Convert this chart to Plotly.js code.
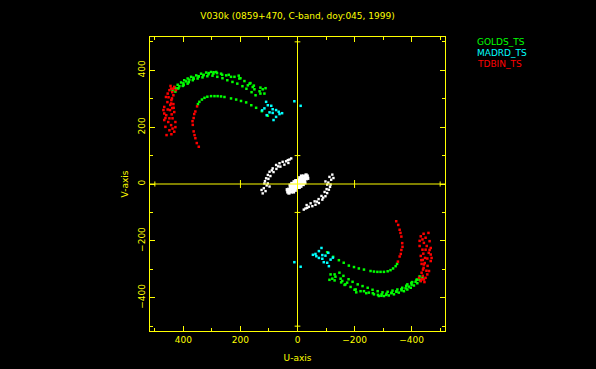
<!DOCTYPE html>
<html>
<head>
<meta charset="utf-8">
<script src="https://cdn.plot.ly/plotly-3.0.1.min.js"></script>
<style>html,body{margin:0;padding:0;background:#000;}#chart{width:596px;height:369px;}</style>
</head>
<body>
<div id="chart"></div>
<script>
// Visibilities (u,v in the same units as the axes); the conjugate (-u,-v) is plotted too.
const goldsU = [438,432,420,408,397,385,373,355,338,320,303,285,268,250,233,221,204,186,174,168,157,151,133,122,116,130,
  420,402,385,367,350,333,316,298,281,263,246,228,211,193,179,161,147,
  428,414,400,390,379,365,347,330,312,295,
  112,130,153,165,200,206,241,264,282,294,311,329,346,364,381,399,417,428,
  349,344,335,326,316,303,291,280,268,256,233,215,198,180,162,145,125,104];
const goldsV = [330,341,349,357,365,371,377,382,388,392,394,394,388,382,377,377,371,362,347,353,341,333,326,333,318,318,
  336,345,353,365,371,375,379,381,377,372,365,359,353,344,335,323,312,
  337,344,354,361,367,374,379,382,386,388,
  337,339,346,355,372,381,384,384,390,393,390,384,378,370,358,348,337,325,
  281,289,297,303,307,309,309,309,308,306,301,297,292,287,277,268,256,240];

const madrdU = [110,104,92,87,75,66,63,87,98,116,75,84,108,11,-11,54,124];
const madrdV = [289,277,275,263,260,254,246,250,252,266,236,225,242,291,275,249,259];

const tdbinU = [461,455,449,443,432,426,467,467,467,463,459,449,443,438,432,447,443,440,449,438,439,435,442,435,439,432,456,460,453,428,428,442,470,463,445,436,452,446,455,441,434,
  352,358,362,364,368,367,364,361,358,353,346];
const tdbinV = [306,318,330,336,341,330,271,248,225,201,172,189,207,195,184,260,283,301,231,231,323,312,295,281,267,253,288,242,218,218,200,175,260,232,345,335,305,278,262,245,268,
  273,255,246,232,221,208,185,172,161,144,131];

// short baselines: arc and central core
const arcU = [122,118,116,110,104,98,87,75,63,52,34,22,104,98,102,95,84,74,60,46,32,112,126,114,108,90,68,40,28];
const arcV = [-33,-15,2,20,32,43,55,67,73,78,84,90,2,-9,18,28,42,53,61,68,74,-25,-21,10,-5,48,62,80,86];
const coreU = [0,8,15,22,28,34,5,12,18,24,30,2,10,16,22,-4,4,26,20,12,6,36,30,14,8];
const coreV = [0,-6,-12,-18,-24,-28,5,0,-6,-12,-18,-10,-16,-22,-28,-6,-14,-4,2,8,12,-20,-32,-28,-22];

const stationNames = ['GOLDS_TS', 'MADRD_TS', 'TDBIN_TS'];
const stationColors = ['#00ff00', '#00ffff', '#ff0000'];
const xTickStep = 200, minorStep = 100;

const withConj = a => a.concat(a.map(x => -x));
const FONT = 'DejaVu Sans, Liberation Sans, sans-serif';
const YEL = '#ffff00';

function tr(u, v, color, size) {
  return {type: 'scatter', mode: 'markers', x: withConj(u), y: withConj(v),
    marker: {symbol: 'square', size: size, color: color, line: {width: 0}},
    hoverinfo: 'skip', showlegend: false};
}

const data = [
  tr(arcU, arcV, '#ffffff', 2.4),
  tr(coreU, coreV, '#ffffff', 3.2),
  tr(goldsU, goldsV, stationColors[0], 2.5),
  tr(madrdU, madrdV, stationColors[1], 2.5),
  tr(tdbinU, tdbinV, stationColors[2], 2.5)
];

const R = 517;
const shapes = [
  {type: 'line', xref: 'x', yref: 'y', x0: R, x1: -R, y0: 0, y1: 0, line: {color: YEL, width: 1}, layer: 'above'},
  {type: 'line', xref: 'x', yref: 'y', x0: 0, x1: 0, y0: -R, y1: R, line: {color: YEL, width: 1}, layer: 'above'}
];
[[200, 14], [-200, 14], [500, 9], [-500, 9]].forEach(([u, h]) => shapes.push(
  {type: 'line', xref: 'x', yref: 'y', x0: u, x1: u, y0: -h, y1: h, line: {color: YEL, width: 1}, layer: 'above'}));
[[100, 10], [-100, 10], [500, 10], [-500, 10]].forEach(([v, h]) => shapes.push(
  {type: 'line', xref: 'x', yref: 'y', x0: -h, x1: h, y0: v, y1: v, line: {color: YEL, width: 1}, layer: 'above'}));

const annotations = stationNames.map((n, i) => ({
  xref: 'paper', yref: 'paper', x: (475 - 150) / 295, y: (331 - (41.7 + i * 11)) / 294,
  xanchor: 'left', yanchor: 'middle', showarrow: false, text: n,
  font: {family: FONT, size: 9, color: stationColors[i]}
}));

const axisCommon = {
  showgrid: false, zeroline: false, showline: true, linecolor: YEL, linewidth: 1, mirror: 'ticks',
  ticks: 'inside', ticklen: 5, tickwidth: 1, tickcolor: YEL, tick0: 0, dtick: xTickStep,
  minor: {dtick: minorStep, tick0: 0, ticks: 'inside', ticklen: 3, tickwidth: 1, tickcolor: YEL, showgrid: false},
  tickfont: {family: FONT, size: 9, color: YEL}
};

const layout = {
  width: 596, height: 369,
  paper_bgcolor: '#000', plot_bgcolor: '#000',
  margin: {l: 150, r: 151, t: 37, b: 38},
  title: {text: 'V030k (0859+470, C-band, doy:045, 1999)', font: {family: FONT, size: 9, color: YEL},
    x: 0.5, xref: 'paper', y: 1 - 16 / 369, yref: 'container', yanchor: 'middle'},
  xaxis: Object.assign({}, axisCommon, {range: [R, -R], title: {text: 'U-axis', standoff: 10, font: {family: FONT, size: 9, color: YEL}}}),
  yaxis: Object.assign({}, axisCommon, {range: [-R, R], tickangle: -90, title: {text: 'V-axis', standoff: 7, font: {family: FONT, size: 9, color: YEL}}}),
  shapes: shapes,
  annotations: annotations,
  showlegend: false
};

Plotly.newPlot('chart', data, layout, {displayModeBar: false, staticPlot: true});
</script>
</body>
</html>
